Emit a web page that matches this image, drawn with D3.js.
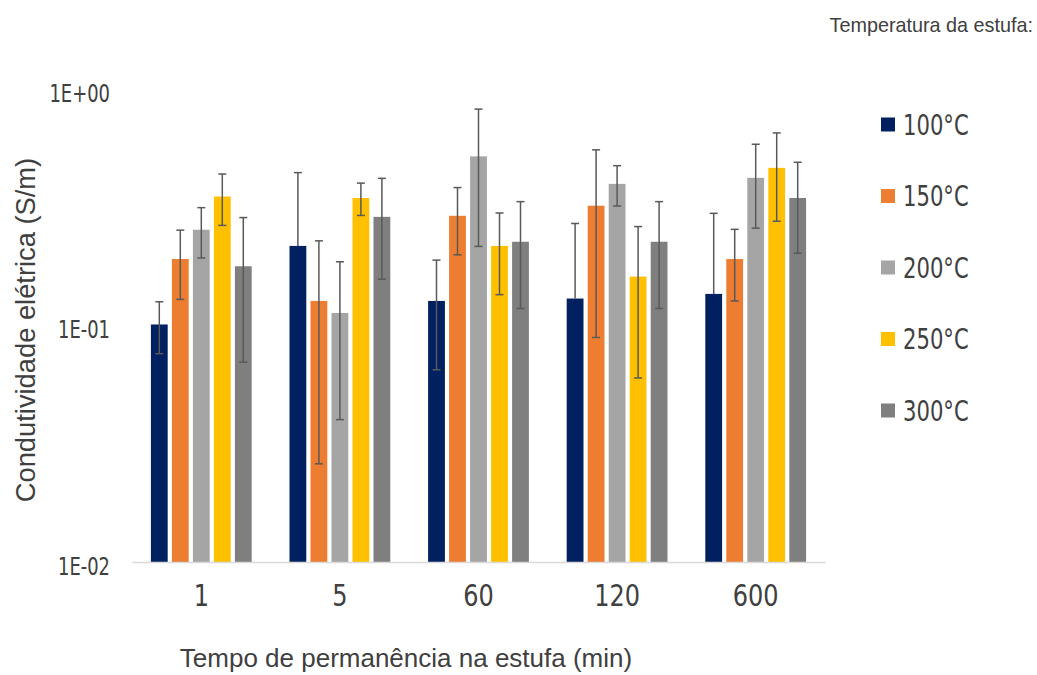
<!DOCTYPE html>
<html><head><meta charset="utf-8">
<script src="https://cdn.jsdelivr.net/npm/d3@7"></script>
<style>body{margin:0;background:#fff}svg{display:block}</style>
</head><body>
<svg id="chart" width="1037" height="675"></svg>
<script>
// ---- data ----
const categories = ["1", "5", "60", "120", "600"];
const seriesNames = ["100°C", "150°C", "200°C", "250°C", "300°C"];
const seriesColors = ["#002060", "#ED7D31", "#A5A5A5", "#FFC000", "#7F7F7F"];
// mean conductivity (S/m) per time category
const v100 = [0.101, 0.217, 0.127, 0.130, 0.136];
const v150 = [0.191, 0.127, 0.291, 0.321, 0.191];
const v200 = [0.254, 0.113, 0.519, 0.397, 0.421];
const v250 = [0.351, 0.346, 0.217, 0.161, 0.464];
const v300 = [0.178, 0.288, 0.226, 0.226, 0.346];
// standard deviation (symmetric error bars)
const e100 = [0.025, 0.226, 0.062, 0.140, 0.162];
const e150 = [0.062, 0.101, 0.092, 0.232, 0.064];
const e200 = [0.061, 0.073, 0.303, 0.077, 0.163];
const e250 = [0.086, 0.054, 0.082, 0.101, 0.188];
const e300 = [0.108, 0.131, 0.108, 0.108, 0.144];
const yTickValues = [1, 0.1, 0.01];
const yTickLabels = ["1E+00", "1E-01", "1E-02"];
const xTitle = "Tempo de permanência na estufa (min)";
const yTitle = "Condutividade elétrica (S/m)";
const legendTitle = "Temperatura da estufa:";

const valueSets = [v100, v150, v200, v250, v300];
const errorSets = [e100, e150, e200, e250, e300];

const rows = [];
seriesNames.forEach((s, si) => {
  categories.forEach((c, ci) => {
    rows.push({cat: c, ser: s, color: seriesColors[si], v: valueSets[si][ci], e: errorSets[si][ci]});
  });
});

const svg = d3.select("#chart");
const narrow = "'Liberation Sans Narrow', 'DejaVu Sans Condensed', sans-serif";
const regular = "'Liberation Sans', Arial, sans-serif";
const textColor = "#404040";

const x0 = d3.scaleBand().domain(categories).range([132, 825]);
const x1 = d3.scaleBand().domain(seriesNames).range([0, x0.bandwidth()])
  .paddingInner(0.2).paddingOuter(0.9);
const y = d3.scaleLog().domain([0.01, 1]).range([562, 89]);

// bars
svg.append("g").selectAll("rect").data(rows).join("rect")
  .attr("x", d => x0(d.cat) + x1(d.ser))
  .attr("y", d => y(d.v))
  .attr("width", x1.bandwidth())
  .attr("height", d => y(0.01) - y(d.v))
  .attr("fill", d => d.color);

// x axis
const xAxis = svg.append("g").attr("transform", `translate(0,${y(0.01)})`)
  .call(d3.axisBottom(x0).tickSize(0).tickSizeOuter(0));
xAxis.select(".domain").attr("stroke", "#D9D9D9").attr("stroke-width", 1.6);
xAxis.selectAll(".tick text")
  .attr("y", 44).attr("dy", 0).attr("transform", "scale(0.89,1)")
  .attr("font-family", narrow).attr("font-size", 30).attr("fill", textColor);

// y axis (labels only)
const yAxis = svg.append("g").attr("transform", "translate(110,0)")
  .call(d3.axisLeft(y).tickValues(yTickValues)
    .tickFormat((d, i) => yTickLabels[i]).tickSize(0).tickPadding(0));
yAxis.select(".domain").remove();
yAxis.selectAll(".tick text")
  .attr("dy", "0.38em").attr("y", 3).attr("x", 0).attr("transform", "scale(0.83,1)")
  .attr("font-family", narrow).attr("font-size", 24).attr("fill", textColor);

// error bars
const eb = svg.append("g").attr("stroke", "#595959").attr("stroke-width", 1.5);
const cap = 4;
rows.forEach(d => {
  const cx = x0(d.cat) + x1(d.ser) + x1.bandwidth() / 2;
  const hi = d.v + d.e;
  const lo = d.v - d.e;
  const yHi = y(hi);
  const yLo = lo > 0 ? y(Math.max(lo, 0.01)) : y(d.v);
  eb.append("line").attr("x1", cx).attr("x2", cx).attr("y1", yHi).attr("y2", yLo);
  eb.append("line").attr("x1", cx - cap).attr("x2", cx + cap).attr("y1", yHi).attr("y2", yHi);
  if (lo > 0) {
    eb.append("line").attr("x1", cx - cap).attr("x2", cx + cap).attr("y1", yLo).attr("y2", yLo);
  }
});

// axis titles
svg.append("text").attr("x", 406).attr("y", 667).attr("text-anchor", "middle")
  .attr("font-family", regular).attr("font-size", 26).attr("fill", textColor)
  .text(xTitle);
svg.append("text").attr("transform", "translate(35,330) rotate(-90)")
  .attr("text-anchor", "middle")
  .attr("font-family", regular).attr("font-size", 27.3).attr("fill", textColor)
  .text(yTitle);

// legend
svg.append("text").attr("x", 1033).attr("y", 32).attr("text-anchor", "end")
  .attr("font-family", regular).attr("font-size", 19.8).attr("fill", textColor)
  .text(legendTitle);
const lg = svg.append("g").selectAll("g").data(seriesNames).join("g")
  .attr("transform", (d, i) => `translate(881,${125 + i * 71.5})`);
lg.append("rect").attr("x", 0).attr("y", -7.5).attr("width", 14).attr("height", 14)
  .attr("fill", (d, i) => seriesColors[i]);
lg.append("g").attr("transform", "translate(22,0) scale(0.84,1)")
  .append("text").attr("x", 0).attr("y", 9.5)
  .attr("font-family", narrow).attr("font-size", 28).attr("fill", textColor)
  .text(d => d);
</script>
</body></html>
